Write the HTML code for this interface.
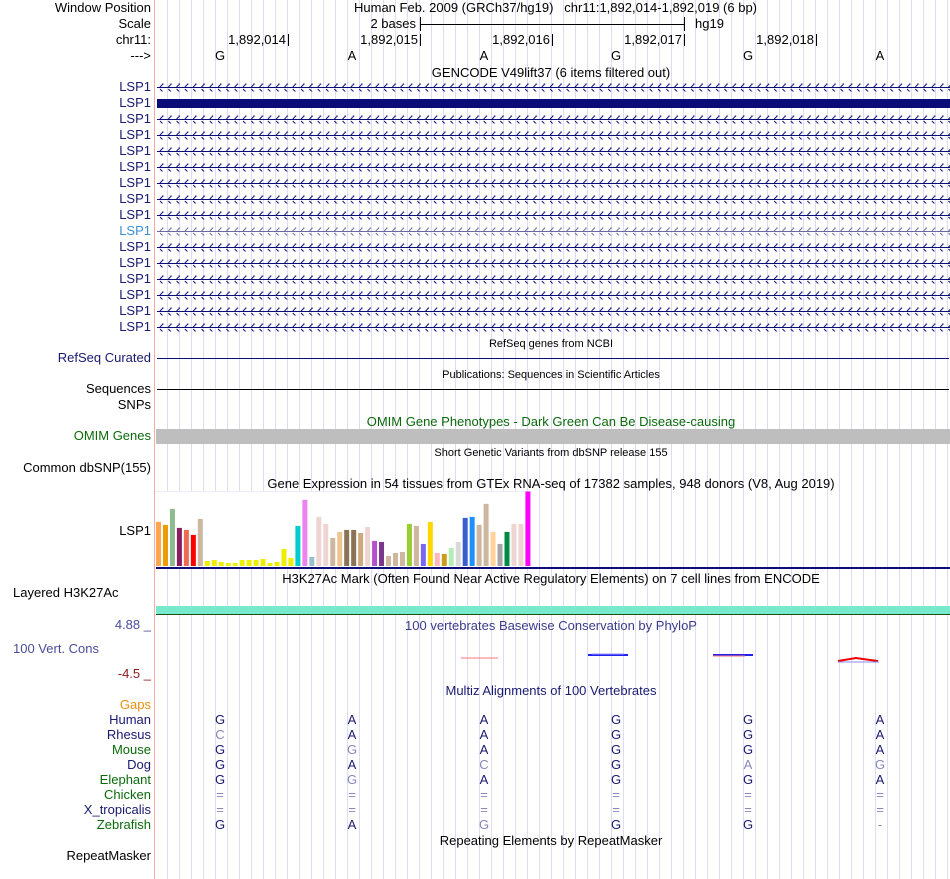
<!DOCTYPE html>
<html><head><meta charset="utf-8">
<style>
body{margin:0;background:#fff;width:950px;height:879px;overflow:hidden;position:relative;font-family:"Liberation Sans",Arial,sans-serif;font-size:13px;color:#000}
.a{position:absolute;white-space:nowrap;line-height:14px}
.l{position:absolute;right:799px;text-align:right;white-space:nowrap;line-height:14px}
.c{position:absolute;transform:translateX(-50%);white-space:nowrap;line-height:14px}
.nv{color:#191970}.gr{color:#0b6a0b}.gy{color:#8888bb}
.s{font-size:11px}
#grid,#tracks{position:absolute;left:0;top:0}
</style></head><body>
<svg id="grid" width="950" height="879"></svg>
<div style="position:absolute;left:154px;top:0;width:1px;height:879px;background:#f7a8a8"></div>

<div class="l" style="top:1px">Window Position</div>
<div class="a" style="left:354px;top:1px">Human Feb. 2009 (GRCh37/hg19)&nbsp;&nbsp; chr11:1,892,014-1,892,019 (6 bp)</div>
<div class="l" style="top:17px">Scale</div>
<div class="a" style="right:534px;top:17px">2 bases</div>
<div style="position:absolute;left:420px;top:24px;width:264px;height:1px;background:#000"></div>
<div style="position:absolute;left:420px;top:17px;width:1px;height:14px;background:#000"></div>
<div style="position:absolute;left:684px;top:17px;width:1px;height:14px;background:#000"></div>
<div class="a" style="left:695px;top:17px">hg19</div>
<div class="l" style="top:33px">chr11:</div>
<div class="l" style="top:49px">---&gt;</div>
<div id="ruler"></div>

<div class="c" style="left:551px;top:66px">GENCODE V49lift37 (6 items filtered out)</div>
<svg id="tracks" width="950" height="879"></svg>

<div class="c s" style="left:551px;top:337px">RefSeq genes from NCBI</div>
<div class="l nv" style="top:351px">RefSeq Curated</div>
<div style="position:absolute;left:157px;top:358px;width:792px;height:1px;background:#0c0c78"></div>
<div class="c s" style="left:551px;top:368px">Publications: Sequences in Scientific Articles</div>
<div class="l" style="top:382px">Sequences</div>
<div style="position:absolute;left:157px;top:389px;width:792px;height:1px;background:#000"></div>
<div class="l" style="top:398px">SNPs</div>
<div class="c" style="left:551px;top:415px;color:#0b6a0b">OMIM Gene Phenotypes - Dark Green Can Be Disease-causing</div>
<div class="l gr" style="top:429px">OMIM Genes</div>
<div style="position:absolute;left:156px;top:429px;width:794px;height:15px;background:#bebebe"></div>
<div class="c s" style="left:551px;top:446px">Short Genetic Variants from dbSNP release 155</div>
<div class="l" style="top:461px">Common dbSNP(155)</div>
<div class="c" style="left:551px;top:477px">Gene Expression in 54 tissues from GTEx RNA-seq of 17382 samples, 948 donors (V8, Aug 2019)</div>
<div class="l" style="top:524px">LSP1</div>
<svg id="gtex" style="position:absolute;left:0;top:0" width="950" height="879"></svg>
<div style="position:absolute;left:156px;top:567px;width:794px;height:2px;background:#0c0c78"></div>
<div class="c" style="left:551px;top:572px">H3K27Ac Mark (Often Found Near Active Regulatory Elements) on 7 cell lines from ENCODE</div>
<div class="a" style="left:13px;top:586px">Layered H3K27Ac</div>
<div style="position:absolute;left:156px;top:606px;width:794px;height:8px;background:#77eacb"></div>
<div style="position:absolute;left:156px;top:614px;width:794px;height:1px;background:#1d4d1d"></div>
<div class="l" style="top:618px;color:#4b4b9b">4.88 _</div>
<div class="c" style="left:551px;top:619px;color:#3b3b8b">100 vertebrates Basewise Conservation by PhyloP</div>
<div class="a" style="left:13px;top:642px;color:#4b4b9b">100 Vert. Cons</div>
<div class="l" style="top:667px;color:#8b1a1a">-4.5 _</div>
<svg style="position:absolute;left:0;top:0" width="950" height="879">
<line x1="461" y1="658" x2="498" y2="658" stroke="#f77" stroke-width="1"/>
<path d="M588 655 L628 655" stroke="#22e" stroke-width="2"/><path d="M592 654 L624 654" stroke="#99f" stroke-width="1"/>
<path d="M713 655 L753 655" stroke="#22e" stroke-width="2"/><path d="M713 656 L745 656" stroke="#f77" stroke-width="1"/>
<path d="M838 661 L856 658 L870 660 L878 661" stroke="#e00" stroke-width="2" fill="none"/><path d="M838 662 L879 662" stroke="#88f" stroke-width="1"/>
</svg>
<div class="c" style="left:551px;top:684px;color:#191970">Multiz Alignments of 100 Vertebrates</div>
<div class="l" style="top:698px;color:#e8900c">Gaps</div>
<div class="l nv" style="top:713px">Human</div>
<div class="l nv" style="top:728px">Rhesus</div>
<div class="l gr" style="top:743px">Mouse</div>
<div class="l nv" style="top:758px">Dog</div>
<div class="l gr" style="top:773px">Elephant</div>
<div class="l gr" style="top:788px">Chicken</div>
<div class="l nv" style="top:803px">X_tropicalis</div>
<div class="l gr" style="top:818px">Zebrafish</div>
<div id="aln"></div>
<div class="c" style="left:551px;top:834px">Repeating Elements by RepeatMasker</div>
<div class="l" style="top:849px">RepeatMasker</div>

<script>
var NS='http://www.w3.org/2000/svg';
function sv(p,t,a){var e=document.createElementNS(NS,t);for(var k in a)e.setAttribute(k,a[k]);p.appendChild(e);return e;}
var g=document.getElementById('grid');
for(var x=167;x<950;x+=12){var ln=sv(g,'line',{x1:x+.5,y1:0,x2:x+.5,y2:879,stroke:'#dcdcf4','stroke-width':1});}
var bases=['G','A','A','G','G','A'];
var tickLabels=['1,892,014','1,892,015','1,892,016','1,892,017','1,892,018'];
var rul=document.getElementById('ruler');
function bx(i){return 154+132*i+66;}
for(var i=0;i<tickLabels.length;i++){
 var tx=288+132*i;
 var t=document.createElement('div');t.className='a';t.style.right=(950-tx+2)+'px';t.style.top='33px';t.textContent=tickLabels[i];
 
 
 rul.appendChild(t);
 var k=document.createElement('div');k.style.cssText='position:absolute;left:'+tx+'px;top:34px;width:1px;height:12px;background:#000';
 
 
 rul.appendChild(k);
}
for(var i=0;i<bases.length;i++){
 var b=document.createElement('div');b.className='c';b.style.left=bx(i)+'px';b.style.top='49px';b.textContent=bases[i];
 
 
 rul.appendChild(b);
}
var tr=document.getElementById('tracks');
var defs=sv(tr,'defs',{});
function pat(id,col){var p=sv(defs,'pattern',{id:id,width:8.3,height:8,patternUnits:'userSpaceOnUse',x:157,y:0});sv(p,'path',{d:'M3 1 L6 4 L3 7',stroke:col,fill:'none','stroke-width':1});}
pat('chev','#0c0c78');pat('chev2','#6a6aa0');
for(var r=0;r<16;r++){
 var cy=87+16*r;
 var lab=document.createElement('div');lab.className='l';lab.style.top=(cy-7)+'px';lab.style.color=(r==9)?'#3a8fd0':'#191970';lab.textContent='LSP1';
 
 
 document.body.appendChild(lab);
 if(r==1){var rc=sv(tr,'rect',{x:157,y:cy-4,width:793,height:9,fill:'#0c0c78'});
  
  
 } else {
  var col=(r==9)?'#6a6aa0':'#0c0c78';
  var l2=sv(tr,'line',{x1:157,y1:cy+.5,x2:950,y2:cy+.5,stroke:col,'stroke-width':1});
  
  
  var rc2=sv(tr,'rect',{x:157,y:cy-3.5,width:793,height:8,fill:'url(#'+(r==9?'chev2':'chev')+')'});
 }
}
</script>
<script>
var tissues=['Adipose-Subcut','Adipose-Visceral','Adrenal','Artery-Aorta','Artery-Coronary','Artery-Tibial','Bladder','Brain-Amygdala','Brain-ACC','Brain-Caudate','Brain-CerebHem','Brain-Cerebellum','Brain-Cortex','Brain-FrontalCtx','Brain-Hippocampus','Brain-Hypothalamus','Brain-NAcc','Brain-Putamen','Brain-SpinalCord','Brain-SubstNigra','Breast','Cells-EBV','Cells-Fibroblasts','Cervix-Ecto','Cervix-Endo','Colon-Sigmoid','Colon-Transverse','Esoph-GEJ','Esoph-Mucosa','Esoph-Muscularis','Fallopian','Heart-AA','Heart-LV','Kidney-Cortex','Kidney-Medulla','Liver','Lung','MinorSalivary','Muscle','Nerve-Tibial','Ovary','Pancreas','Pituitary','Prostate','Skin-NotSun','Skin-Sun','SmallIntestine','Spleen','Stomach','Testis','Thyroid','Uterus','Vagina','WholeBlood'];
var values=[132,123,171,114,108,93,141,15,18,12,9,9,18,18,18,21,9,12,51,24,120,198,27,147,126,84,102,108,108,99,117,75,72,30,39,42,126,120,66,132,39,36,54,72,144,147,123,186,102,66,102,126,126,223];
var colors=['#FFA54F','#EE9A00','#8FBC8F','#8B1C62','#EE6A50','#FF0000','#CDB79E','#EEEE00','#EEEE00','#EEEE00','#EEEE00','#EEEE00','#EEEE00','#EEEE00','#EEEE00','#EEEE00','#EEEE00','#EEEE00','#EEEE00','#EEEE00','#00CDCD','#EE82EE','#9AC0CD','#EED5D2','#EED5D2','#CDB79E','#EEC591','#8B7355','#8B7355','#CDAA7D','#EED5D2','#B452CD','#7A378B','#CDB79E','#CDB79E','#CDB79E','#9ACD32','#CDB79E','#7B68EE','#FFD700','#FFB6C1','#CD9B1D','#B4EEB4','#D9D9D9','#3A5FCD','#1E90FF','#CDB79E','#CDB79E','#FFD39B','#A6A6A6','#008B45','#EED5D2','#EED5D2','#FF00FF'];
var maxVal=223;
function xPos(i){return 156+i*6.97;}
function yH(v){return v/maxVal*74.5;}
var gt=document.getElementById('gtex');
sv(gt,'rect',{x:155,y:491,width:377,height:76,fill:'#fff'});
sv(gt,'line',{x1:155,y1:491.5,x2:532,y2:491.5,stroke:'#ececf8'});
for(var i=0;i<values.length;i++){
 var h=yH(values[i]);
 var bar=sv(gt,'rect',{x:xPos(i),y:566-h,width:5,height:h,fill:colors[i]});
 
 
}
var rowsY=[713,728,743,758,773,788,803,818];
var alnSeqs=['GAAGGA','CAAGGA','GGAGGA','GACGAG','GGAGGA','======','======','GAGGG-'];
var alnGray=['000000','100000','010000','001011','010000','111111','111111','001001'];
var al=document.getElementById('aln');
for(var r=0;r<alnSeqs.length;r++){for(var i=0;i<6;i++){
 var d=document.createElement('div');d.className='c';d.style.left=bx(i)+'px';d.style.top=rowsY[r]+'px';
 d.style.color=alnGray[r][i]=='1'?'#8888bb':'#191970';d.textContent=alnSeqs[r][i];
 
 
 al.appendChild(d);
}}
</script>
</body></html>
